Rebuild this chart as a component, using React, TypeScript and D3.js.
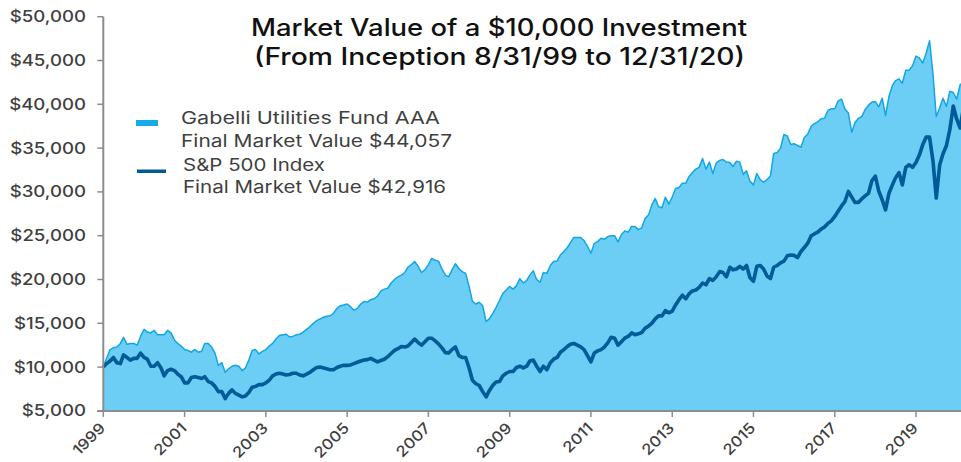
import React from "react";
import * as d3 from "d3";

// Monthly values in $ thousands, month-ends from 8/31/1999 to 12/31/2020
const fundValues = [
  10.0, 11.0, 12.0, 12.2, 12.3, 12.7, 13.4, 12.6, 12.7, 12.7, 12.5, 13.5,
  14.3, 14.0, 13.9, 14.2, 13.7, 13.7, 13.7, 14.2, 13.9, 13.1, 12.7, 12.4,
  12.0, 11.9, 11.7, 12.0, 11.7, 11.8, 12.7, 12.7, 12.3, 11.6, 10.2, 10.5,
  9.4, 9.8, 10.1, 10.2, 10.1, 9.6, 9.9, 10.8, 11.9, 12.0, 11.5, 11.8,
  12.0, 12.4, 12.7, 13.2, 13.6, 13.7, 13.75, 13.45, 13.5, 13.7, 13.75, 14.0,
  14.3, 14.6, 15.0, 15.3, 15.5, 15.7, 15.8, 15.85, 16.15, 16.7, 17.0, 17.1,
  17.2, 16.9, 16.5, 16.7, 17.2, 17.5, 17.4, 17.7, 17.8, 18.1, 18.7, 18.9,
  19.0, 19.6, 20.0, 20.3, 20.5, 20.8, 21.4, 21.7, 22.05, 21.5, 20.8, 21.1,
  21.7, 22.4, 22.2, 22.1, 21.2, 20.5, 20.3, 21.1, 21.8, 21.25, 20.9, 20.7,
  19.2, 17.5, 17.2, 17.4, 17.0, 15.2, 15.5, 16.1, 16.8, 17.6, 18.4, 18.8,
  19.2, 18.9, 19.3, 20.1, 19.6, 19.9, 20.5, 21.0, 20.0, 19.7, 20.8, 20.7,
  21.6, 22.05, 22.1, 22.8, 23.2, 23.65, 24.2, 24.8, 24.8, 24.8, 24.45, 23.8,
  23.0, 24.1, 24.35, 24.7, 24.6, 24.9, 25.0, 25.0, 24.3, 25.1, 25.55, 25.4,
  26.05, 26.05, 25.7, 25.9, 27.0, 27.4, 28.5, 29.25, 28.3, 28.2, 29.4, 28.6,
  29.4, 30.4, 30.5, 31.0, 31.0, 31.8, 32.2, 32.6, 32.8, 33.8, 32.6, 33.4,
  32.1, 33.3, 33.6, 33.7, 33.4, 33.35, 32.9, 33.5, 33.4, 32.0, 32.4, 31.2,
  30.8, 32.1, 31.4, 31.1, 31.4, 31.85, 34.4, 34.5, 35.0, 36.55, 36.4, 35.4,
  35.5, 35.3, 35.1, 36.2, 36.6, 37.5, 37.8, 38.0, 38.35, 38.4, 39.3, 39.5,
  39.5, 40.4, 40.6, 39.45, 39.0, 36.8, 37.9, 38.4, 38.6, 39.4, 39.9, 40.25,
  40.3, 39.7, 40.7, 38.7, 40.9, 42.15, 42.7, 42.9, 42.4, 43.9, 43.9, 44.4,
  45.5, 45.3, 44.7, 45.85, 47.25, 43.4, 38.6, 39.6, 40.7, 39.75, 41.5, 41.35,
  40.6, 42.2, 42.6, 43.3, 44.057,
];

const spValues = [
  10.0, 10.4, 10.7, 11.1, 10.5, 10.4, 11.4, 11.1, 10.8, 11.0, 11.0, 11.6,
  11.1, 10.9, 10.1, 10.1, 10.5, 9.9, 9.0, 9.6, 9.75, 9.6, 9.2, 8.9,
  8.2, 8.2, 8.8, 8.9, 8.8, 8.7, 8.9, 8.35, 8.2, 7.8, 7.2, 7.2,
  6.4, 7.0, 7.4, 7.0, 6.8, 6.6, 6.7, 7.1, 7.7, 7.8, 8.0, 8.0,
  8.2, 8.5, 9.0, 9.2, 9.3, 9.2, 9.1, 9.15, 9.3, 9.3, 9.1, 9.0,
  9.2, 9.4, 9.7, 9.95, 10.0, 9.9, 9.8, 9.7, 9.7, 9.95, 10.1, 10.2,
  10.2, 10.25, 10.4, 10.55, 10.7, 10.8, 10.85, 11.0, 10.8, 10.6, 10.75, 10.9,
  11.2, 11.55, 11.9, 12.1, 12.35, 12.3, 12.4, 12.8, 13.2, 12.8, 12.5, 12.9,
  13.3, 13.3, 13.0, 12.65, 12.2, 11.65, 11.6, 12.0, 12.3, 11.3, 11.1, 11.1,
  9.9, 8.5, 8.1, 7.9, 7.2, 6.6, 7.3, 7.9, 8.3, 8.35, 9.0, 9.3,
  9.5, 9.5, 9.95, 10.1, 9.9, 10.1, 10.7, 10.8, 10.1, 9.5, 10.1, 9.7,
  10.5, 10.9, 11.1, 11.7, 12.0, 12.35, 12.6, 12.7, 12.5, 12.3, 12.0, 11.3,
  10.6, 11.6, 11.85, 12.0, 12.3, 12.8, 13.4, 13.3, 12.5, 12.9, 13.3, 13.5,
  13.9, 13.7, 13.8, 13.95, 14.45, 14.7, 15.0, 15.5, 15.85, 15.85, 16.45, 16.2,
  16.4, 17.1, 17.7, 18.2, 17.8, 18.4, 18.7, 18.8, 19.1, 19.6, 19.4, 20.1,
  19.9, 20.3, 20.9, 20.8, 20.3, 21.4, 21.1, 21.2, 21.5, 21.2, 21.6, 20.2,
  19.8, 21.5, 21.6, 21.2, 20.4, 20.1, 21.4, 21.6, 21.9, 22.1, 22.7, 22.8,
  22.75, 22.5, 23.2, 23.65, 24.15, 25.0, 25.2, 25.4, 25.75, 26.0, 26.4, 26.7,
  27.2, 27.8, 28.4, 28.9, 30.05, 29.4, 28.8, 28.8, 29.2, 29.55, 29.85, 31.3,
  31.8, 30.1, 29.1, 27.95, 29.85, 30.8, 31.6, 32.2, 30.8, 32.8, 33.1, 32.8,
  33.35, 34.2, 35.4, 36.25, 36.25, 33.5, 29.3, 33.1, 34.35, 35.3, 37.1, 39.8,
  38.3, 37.3, 39.6, 41.4, 42.916,
];

const yTickValues = [5, 10, 15, 20, 25, 30, 35, 40, 45, 50];
const yTickLabels = ["$5,000", "$10,000", "$15,000", "$20,000", "$25,000", "$30,000", "$35,000", "$40,000", "$45,000", "$50,000"];
const xTickYears = [1999, 2001, 2003, 2005, 2007, 2009, 2011, 2013, 2015, 2017, 2019];

const titleLines = ["Market Value of a $10,000 Investment", "(From Inception 8/31/99 to 12/31/20)"];
const legendFund = ["Gabelli Utilities Fund AAA", "Final Market Value $44,057"];
const legendSP = ["S&P 500 Index", "Final Market Value $42,916"];

const W = 961;
const H = 462;
const FONT = "Inter, 'DejaVu Sans', sans-serif";
const TXT = "#3f3f3f";
const AXIS = "#8c8c8c";
const FILL = "#6ccdf5";
const FUND_LINE = "#12a7e3";
const SP_LINE = "#005b97";

function monthEnd(i: number): Date {
  const first = d3.utcMonth.offset(new Date(Date.UTC(1999, 8, 1)), i);
  return d3.utcDay.offset(first, -1);
}

export default function App() {
  const dates = fundValues.map((_, i) => monthEnd(i));
  const x = d3
    .scaleUtc()
    .domain([new Date(Date.UTC(1999, 7, 31)), new Date(Date.UTC(2019, 7, 31))])
    .range([103.3, 916]);
  const y = d3.scaleLinear().domain([5, 50]).range([410.9, 16.7]);

  const fund = fundValues.map((v, i) => ({ d: dates[i], v }));
  const sp = spValues.map((v, i) => ({ d: dates[i], v }));

  const area = d3
    .area<{ d: Date; v: number }>()
    .x((p) => x(p.d))
    .y0(y(5))
    .y1((p) => y(p.v));
  const line = d3
    .line<{ d: Date; v: number }>()
    .x((p) => x(p.d))
    .y((p) => y(p.v));

  const xTicks = xTickYears.map((yr) => new Date(Date.UTC(yr, 7, 31)));
  const baseY = y(5);
  const leftX = x(xTicks[0]);

  return (
    <div style={{ position: "absolute", left: 0, top: 0 }}>
      <svg width={W} height={H} style={{ display: "block", overflow: "hidden" }} fontFamily={FONT}>
        <rect x={0} y={0} width={W} height={H} fill="#ffffff" />
        <path d={area(fund) || ""} fill={FILL} stroke="none" />
        <path d={line(fund) || ""} fill="none" stroke={FUND_LINE} strokeWidth={1.5} strokeLinejoin="round" />
        <path d={line(sp) || ""} fill="none" stroke={SP_LINE} strokeWidth={3.6} strokeLinejoin="round" />

        {/* Y axis */}
        <line x1={leftX} x2={leftX} y1={y(50)} y2={baseY} stroke={AXIS} strokeWidth={2} />
        {yTickValues.map((t, i) => (
          <g key={t}>
            <line x1={leftX - 6} x2={leftX} y1={y(t)} y2={y(t)} stroke={AXIS} strokeWidth={1.5} />
            <text
              transform={`translate(86,${y(t) + 5.5}) scale(1.2,1)`}
              textAnchor="end"
              fontSize={15.5}
              fontWeight={500}
              fill={TXT}
            >
              {yTickLabels[i]}
            </text>
          </g>
        ))}

        {/* X axis */}
        <line x1={leftX - 6} x2={W} y1={baseY} y2={baseY} stroke={AXIS} strokeWidth={2} />
        {xTicks.map((t, i) => (
          <g key={i}>
            <line x1={x(t)} x2={x(t)} y1={baseY} y2={baseY + 6} stroke={AXIS} strokeWidth={1.5} />
            <text
              transform={`translate(${x(t) + 3},429) rotate(-45) scale(1.12,1)`}
              textAnchor="end"
              fontSize={15}
              fontWeight={500}
              fill={TXT}
            >
              {xTickYears[i]}
            </text>
          </g>
        ))}

        {/* Title */}
        <text x={251} y={36} fontSize={24} fontWeight={500} fill="#111" textLength={496} lengthAdjust="spacingAndGlyphs">
          {titleLines[0]}
        </text>
        <text x={254} y={65} fontSize={24} fontWeight={500} fill="#111" textLength={491} lengthAdjust="spacingAndGlyphs">
          {titleLines[1]}
        </text>

        {/* Legend */}
        <rect x={136} y={120} width={22} height={6} fill="#16abe6" />
        <text x={181} y={124} fontSize={17} fill={TXT} textLength={259} lengthAdjust="spacingAndGlyphs">
          {legendFund[0]}
        </text>
        <text x={181} y={147} fontSize={17} fill={TXT} textLength={271} lengthAdjust="spacingAndGlyphs">
          {legendFund[1]}
        </text>
        <rect x={137} y={169.5} width={29} height={3.5} fill={SP_LINE} />
        <text x={183} y={171} fontSize={17} fill={TXT} textLength={142} lengthAdjust="spacingAndGlyphs">
          {legendSP[0]}
        </text>
        <text x={183} y={193} fontSize={17} fill={TXT} textLength={263} lengthAdjust="spacingAndGlyphs">
          {legendSP[1]}
        </text>
      </svg>
    </div>
  );
}
